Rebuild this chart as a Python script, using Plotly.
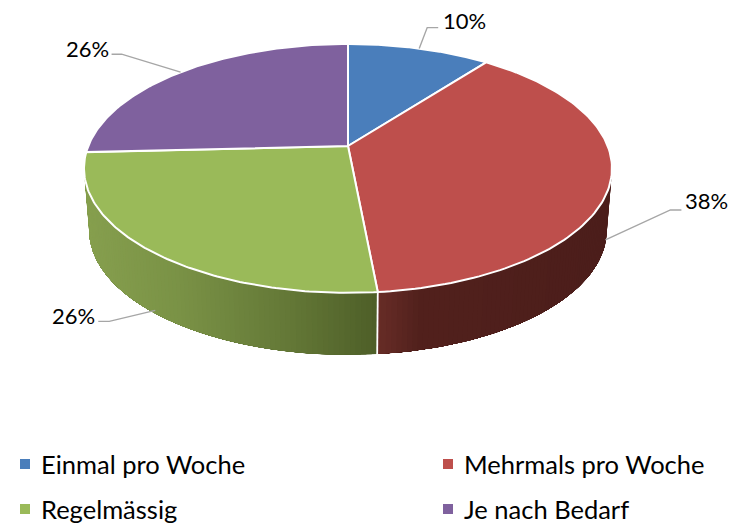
import numpy as np
import plotly.graph_objects as go

categories = ["Einmal pro Woche", "Mehrmals pro Woche", "Regelmässig", "Je nach Bedarf"]
values = [10.4, 38.1, 25.7, 25.8]
colors = ["#4A7EBB", "#BE4F4C", "#9ABA59", "#7F619E"]

# Tilted-disc projection (pixels, axis range equals page size)
CX, CY, R, S, K, DEPTH, SHRINK = 348.0, 146.0, 259.7, 120.4, 0.18, 62.0, 0.98


def project(theta_deg, lower=False):
    t = np.radians(np.asarray(theta_deg, dtype=float))
    w = 1 + K * np.cos(t)
    x = R * np.sin(t) / w
    y = CY - S * np.cos(t) / w
    if lower:
        return CX + x * SHRINK, y + DEPTH
    return CX + x, y


total = sum(values)
edges = np.concatenate([[0], np.cumsum(values)]) / total * 360
fig = go.Figure()

# Side wall colour stops along x
side_stops = {
    1: ([378, 420, 612], [(104, 45, 39), (82, 33, 29), (76, 30, 27)]),
    2: ([88, 180, 290, 378], [(134, 159, 78), (122, 146, 70), (100, 120, 55), (78, 95, 40)]),
}


def side_color(i, x):
    xs, rgb = side_stops[i]
    c = [np.interp(x, xs, [s[k] for s in rgb]) for k in range(3)]
    return "rgb(%d,%d,%d)" % tuple(c)


# Side walls: each strip overlaps the next so no seams show
for i in side_stops:
    a, b = max(edges[i], 100), min(edges[i + 1], 260)
    steps = list(np.arange(a, b, 1.0)) + [b]
    for n in range(len(steps) - 1):
        arc = np.linspace(steps[n], b, 60)
        x0, y0 = project(arc)
        x1, y1 = project(arc[::-1], lower=True)
        col = side_color(i, float(project([(steps[n] + steps[n + 1]) / 2])[0][0]))
        fig.add_trace(go.Scatter(
            x=list(x0) + list(x1) + [x0[0]], y=list(y0) + list(y1) + [y0[0]],
            mode="lines", fill="toself", fillcolor=col,
            line=dict(width=0), hoverinfo="skip", showlegend=False))

# Vertical seam between the two front walls
sx0, sy0 = project([edges[2]])
sx1, sy1 = project([edges[2]], lower=True)
fig.add_trace(go.Scatter(x=[sx0[0], sx1[0]], y=[sy0[0], sy1[0]], mode="lines",
                         line=dict(color="white", width=1.8), hoverinfo="skip", showlegend=False))

# Top face
for i, name in enumerate(categories):
    arc = np.linspace(edges[i], edges[i + 1], 120)
    x, y = project(arc)
    fig.add_trace(go.Scatter(
        x=[CX] + list(x) + [CX], y=[CY] + list(y) + [CY], mode="lines", fill="toself",
        fillcolor=colors[i], line=dict(color="white", width=2), name=name,
        hoverinfo="name", showlegend=False))

# Leader lines and percentage labels: anchor on rim at each slice's mid-angle
elbows = [[(8, -21), (19, -21)], [(65, -30), (76, -30)], [(-46, 11), (-57, 11)], [(-59, -18), (-69, -18)]]
label_off = [(45, -28), (101, -39), (-82, 5), (-93, -24)]
on_lower = [False, True, True, False]
for i in range(4):
    mid = (edges[i] + edges[i + 1]) / 2
    ax, ay = project([mid], lower=on_lower[i])
    ax, ay = float(ax[0]), float(ay[0])
    if on_lower[i]:
        ay -= 3
    fig.add_trace(go.Scatter(
        x=[ax] + [ax + e[0] for e in elbows[i]], y=[ay] + [ay + e[1] for e in elbows[i]],
        mode="lines", line=dict(color="#A6A6A6", width=1.4), hoverinfo="skip", showlegend=False))
    fig.add_annotation(x=ax + label_off[i][0], y=ay + label_off[i][1], xref="x", yref="y",
                       text=f"{round(values[i])}%", showarrow=False,
                       font=dict(family="Lato", size=22, color="#000000"))

# Legend
leg_x = [25, 448]
leg_y = [464, 509]
for i, name in enumerate(categories):
    lx, ly = leg_x[i % 2], leg_y[i // 2]
    fig.add_trace(go.Scatter(x=[lx], y=[ly], mode="markers",
                             marker=dict(symbol="square", size=10, color=colors[i]),
                             hoverinfo="skip", showlegend=False))
    fig.add_annotation(x=lx + 14, y=ly, xref="x", yref="y", text=name, showarrow=False,
                       xanchor="left", font=dict(family="Lato", size=25.5, color="#000000"))

fig.update_layout(
    width=738, height=523, margin=dict(l=0, r=0, t=0, b=0),
    paper_bgcolor="white", plot_bgcolor="white",
    xaxis=dict(range=[0, 738], visible=False, fixedrange=True),
    yaxis=dict(range=[523, 0], visible=False, fixedrange=True),
)
fig.write_html("out.html", config={"displayModeBar": False},
               post_script="document.body.style.margin='0';document.body.style.overflow='hidden';")
